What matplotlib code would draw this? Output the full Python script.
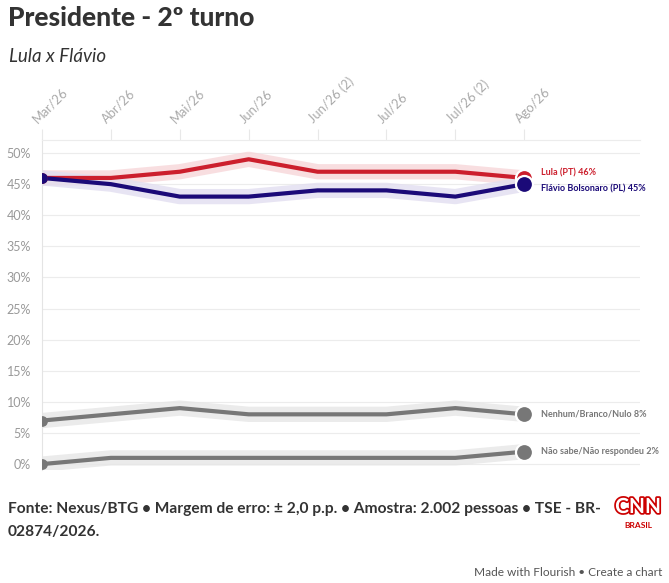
import matplotlib
matplotlib.use("Agg")
from matplotlib import pyplot as plt
import matplotlib.patheffects as pe

months = ["Mar/26", "Abr/26", "Mai/26", "Jun/26", "Jun/26 (2)", "Jul/26", "Jul/26 (2)", "Ago/26"]
lula = [46, 46, 47, 49, 47, 47, 47, 46]
flavio = [46, 45, 43, 43, 44, 44, 43, 45]
nenhum = [7, 8, 9, 8, 8, 8, 9, 8]
nao_sabe = [0, 1, 1, 1, 1, 1, 1, 2]

series = [
    ("Não sabe/Não respondeu", nao_sabe, "#777777", "#e6e6e6", 452),
    ("Nenhum/Branco/Nulo", nenhum, "#777777", "#e6e6e6", 414),
    ("Lula (PT)", lula, "#cc1f2d", "#f7d6d9", 173),
    ("Flávio Bolsonaro (PL)", flavio, "#1b0a78", "#e2def0", 189),
]

W, H = 669, 583
fig = plt.figure(figsize=(W / 100, H / 100), dpi=100)
plt.rcParams['font.family'] = ['Lato', 'DejaVu Sans']

ax_left, ax_right, ax_top, ax_bot = 42, 640, 140, 470
ax = fig.add_axes([ax_left / W, 1 - ax_bot / H, (ax_right - ax_left) / W, (ax_bot - ax_top) / H])
x = list(range(len(months)))
ax.set_xlim(0, 8.68)
ax.set_ylim(-0.95, 52.1)

for s in ["right", "bottom"]:
    ax.spines[s].set_visible(False)
ax.spines["left"].set_color("#e4e4e4")
ax.spines["top"].set_color("#ececec")
ax.spines["left"].set_linewidth(0.8)
ax.spines["top"].set_linewidth(0.8)

yt = list(range(0, 51, 5))
ax.set_yticks(yt)
ax.set_yticklabels([f"{v}%" for v in yt], color="#999999", fontsize=9)
ax.tick_params(axis="y", length=0, pad=8)
ax.grid(axis="y", color="#ececec", linewidth=0.8)
ax.set_axisbelow(True)

ax.xaxis.tick_top()
ax.set_xticks(x)
ax.set_xticklabels([])
ax.tick_params(axis="x", length=8, color="#e8e8e8", width=0.8)
for i, m in enumerate(months):
    ax.annotate(m, xy=(i, 1), xycoords=("data", "axes fraction"),
                xytext=(-2, 11), textcoords="offset points",
                rotation=45, ha="left", va="bottom", rotation_mode="anchor",
                color="#aaaaaa", fontsize=9.3)

for name, vals, col, halo, ly in series:
    ax.plot(x, vals, color=halo, linewidth=11, solid_capstyle="round", alpha=0.8, zorder=2)
    ax.plot(x, vals, color=col, linewidth=3, solid_capstyle="round", zorder=3)
    ax.scatter([x[0]], [vals[0]], s=45, color=col, zorder=4)
    ax.scatter([x[-1]], [vals[-1]], s=150, color=col, edgecolors="white", linewidths=1.6, zorder=5)
    fig.text(541 / W, 1 - ly / H, f"{name} {vals[-1]}%", color=col, fontsize=6.5,
             fontweight="bold", va="center", ha="left")

fig.text(8 / W, 1 - 18 / H, "Presidente - 2º turno", fontsize=19, fontweight="black",
         color="#333333", va="center")
fig.text(9 / W, 1 - 57 / H, "Lula x Flávio", fontsize=13.5, style="italic",
         color="#333333", va="center")

fig.text(8 / W, 1 - 509 / H, "Fonte: Nexus/BTG • Margem de erro: ± 2,0 p.p. • Amostra: 2.002 pessoas • TSE - BR-",
         fontsize=11.2, fontweight="bold", color="#333333", va="center")
fig.text(8 / W, 1 - 532 / H, "02874/2026.", fontsize=11.2, fontweight="bold", color="#333333", va="center")

fig.text(638 / W, 1 - 507 / H, "CNN", fontsize=15, fontweight="bold", color="white", ha="center",
         va="center", path_effects=[pe.withStroke(linewidth=2.5, foreground="#cc0000")])
fig.text(638 / W, 1 - 526 / H, "BRASIL", fontsize=6, fontweight="bold", color="#cc0000",
         ha="center", va="center")

fig.text(662 / W, 1 - 573 / H, "Made with Flourish • Create a chart", fontsize=8.6,
         color="#555555", ha="right", va="center")

fig.savefig("out.png", dpi=100)
